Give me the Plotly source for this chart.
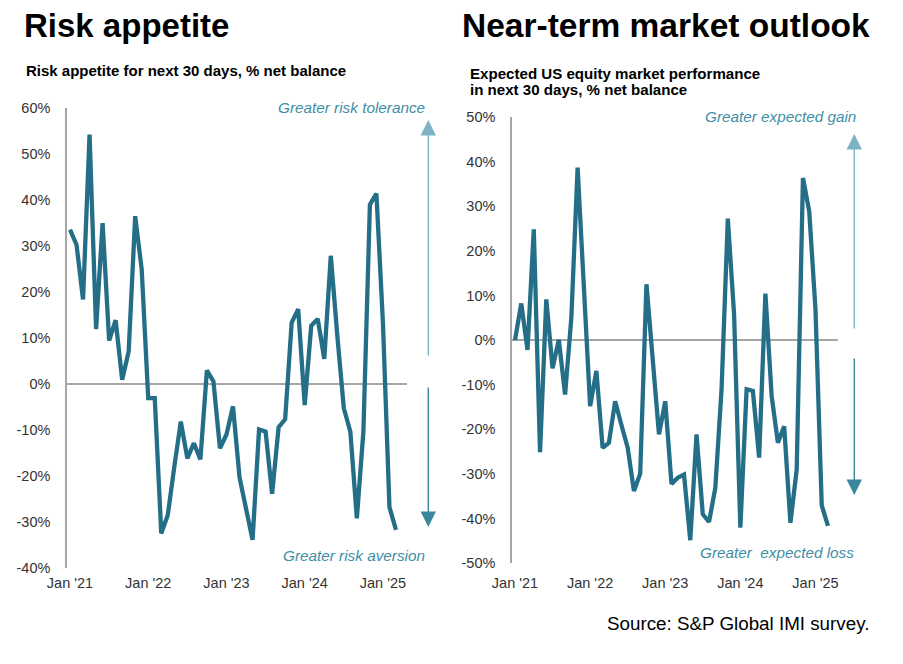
import pandas as pd
import plotly.graph_objects as go

# monthly survey readings, Jan 2021 - Mar 2025
months = [d.strftime("%b %Y") for d in pd.date_range("2021-01-01", periods=51, freq="MS")]

risk_appetite = [
    33.5, 30.2, 18.3, 54.1, 11.9, 34.9, 9.4, 13.8, 0.9, 7.0, 36.4, 24.8,
    -3.1, -3.1, -32.5, -28.5, -18.0, -8.2, -16.2, -12.9, -16.4, 2.9, 0.5, -14.0,
    -11.0, -4.9, -20.3, -26.7, -33.9, -9.9, -10.4, -23.9, -9.4, -7.7, 13.3, 16.2,
    -4.6, 12.6, 14.1, 5.4, 27.8, 10.5, -5.3, -10.4, -29.2, -10.4, 38.9, 41.3,
    13.2, -26.8, -31.7,
]

equity_outlook = [
    0.0, 8.2, -2.2, 24.8, -25.1, 9.1, -6.3, 0.1, -12.2, 5.0, 38.6, 12.0,
    -14.8, -6.9, -24.1, -23.0, -13.7, -19.0, -24.1, -33.8, -29.9, 12.5, -4.5, -21.1,
    -13.7, -32.2, -30.8, -30.1, -44.8, -21.1, -39.0, -40.7, -33.1, -11.0, 27.2, 5.7,
    -42.0, -11.0, -11.4, -26.3, 10.4, -12.5, -23.0, -19.3, -40.9, -29.0, 36.3, 28.9,
    6.9, -37.0, -41.6,
]

x_tickvals = ["Jan 2021", "Jan 2022", "Jan 2023", "Jan 2024", "Jan 2025"]
x_ticktext = ["Jan '21", "Jan '22", "Jan '23", "Jan '24", "Jan '25"]

left_yvals = [-40, -30, -20, -10, 0, 10, 20, 30, 40, 50, 60]
left_ytext = ["-40%", "-30%", "-20%", "-10%", "0%", "10%", "20%", "30%", "40%", "50%", "60%"]
right_yvals = [-50, -40, -30, -20, -10, 0, 10, 20, 30, 40, 50]
right_ytext = ["-50%", "-40%", "-30%", "-20%", "-10%", "0%", "10%", "20%", "30%", "40%", "50%"]

# page body has an 8px margin, so the figure is sized to fit inside the window
PAD = 8
W, H = 903 - 2 * PAD, 664 - 2 * PAD
LINE = "#246e88"
TEAL_TEXT = "#3f8ea5"
FONT = "Liberation Sans, Arial, sans-serif"


def px(x):
    # window pixel -> paper fraction
    return (x - PAD) / W


def py(y):
    return 1 - (y - PAD) / H


def x_axis(domain, rng):
    return dict(
        domain=domain, type="category", range=rng, automargin=False,
        tickmode="array", tickvals=x_tickvals, ticktext=x_ticktext,
        showgrid=False, zeroline=False, showline=False, ticks="",
        tickfont=dict(size=14.5, color="#333333"), ticklabelstandoff=4,
    )


def y_axis(domain, rng, vals, text, anchor):
    return dict(
        domain=domain, range=rng, anchor=anchor, automargin=False,
        tickmode="array", tickvals=vals, ticktext=text,
        showgrid=False, zeroline=True, zerolinecolor="#a6a6a6", zerolinewidth=1.5,
        showline=True, linecolor="#a6a6a6", linewidth=1.5, ticks="",
        tickfont=dict(size=14.5, color="#333333"), ticklabelstandoff=12,
    )


fig = go.Figure()
fig.add_trace(go.Scatter(x=months, y=risk_appetite, mode="lines",
                         line=dict(color=LINE, width=4.3), xaxis="x", yaxis="y"))
fig.add_trace(go.Scatter(x=months, y=equity_outlook, mode="lines",
                         line=dict(color=LINE, width=4.3), xaxis="x2", yaxis="y2"))

fig.update_layout(
    width=W, height=H, autosize=False,
    margin=dict(l=0, r=0, t=0, b=0, pad=0, autoexpand=False),
    paper_bgcolor="white", plot_bgcolor="white",
    showlegend=False,
    font=dict(family=FONT, color="#333333"),
    xaxis=x_axis([px(67), px(407)], [-0.46, 51.69]),
    yaxis=y_axis([py(568), py(107.5)], [-40, 60], left_yvals, left_ytext, "x"),
    xaxis2=x_axis([px(512), px(838)], [-0.48, 51.6]),
    yaxis2=y_axis([py(563.4), py(116.8)], [-50, 50], right_yvals, right_ytext, "x2"),
)

texts = [
    # (text, x, y, anchor, size, color)
    ("<b>Risk appetite</b>", 22, 25, "left", 33, "black"),
    ("<b>Near-term market outlook</b>", 460, 25, "left", 33.5, "black"),
    ("<b>Risk appetite for next 30 days, % net balance</b>", 24, 71, "left", 15, "black"),
    ("<b>Expected US equity market performance</b>", 468, 73, "left", 15.1, "black"),
    ("<b>in next 30 days, % net balance</b>", 468, 89.5, "left", 15.1, "black"),
    ("<i>Greater risk tolerance</i>", 427, 107, "right", 15.3, TEAL_TEXT),
    ("<i>Greater risk aversion</i>", 427, 555, "right", 15.3, TEAL_TEXT),
    ("<i>Greater expected gain</i>", 858, 117, "right", 15.3, TEAL_TEXT),
    ("<i>Greater  expected loss</i>", 856, 552, "right", 15.3, TEAL_TEXT),
    ("Source: S&P Global IMI survey.", 871, 623, "right", 18.8, "black"),
]
for text, x, y, anchor, size, color in texts:
    fig.add_annotation(
        text=text, xref="paper", yref="paper", x=px(x), y=py(y),
        xanchor=anchor, yanchor="middle", showarrow=False,
        font=dict(size=size, color=color, family=FONT),
    )

# direction arrows: (x, tip y, tail y, colour)
arrows = [
    (428.3, 120, 357, "#7db3c4"),
    (428.3, 527, 386, "#3b869c"),
    (854.3, 134, 330, "#7db3c4"),
    (854.3, 495, 357, "#3b869c"),
]
for x, tip, tail, color in arrows:
    fig.add_annotation(
        text="", xref="paper", yref="paper", x=px(x), y=py(tip),
        ax=0, ay=tail - tip, showarrow=True,
        arrowhead=2, arrowsize=2.2, arrowwidth=1.4, arrowcolor=color,
        standoff=0, startstandoff=0,
    )

fig.write_html("out.html")
